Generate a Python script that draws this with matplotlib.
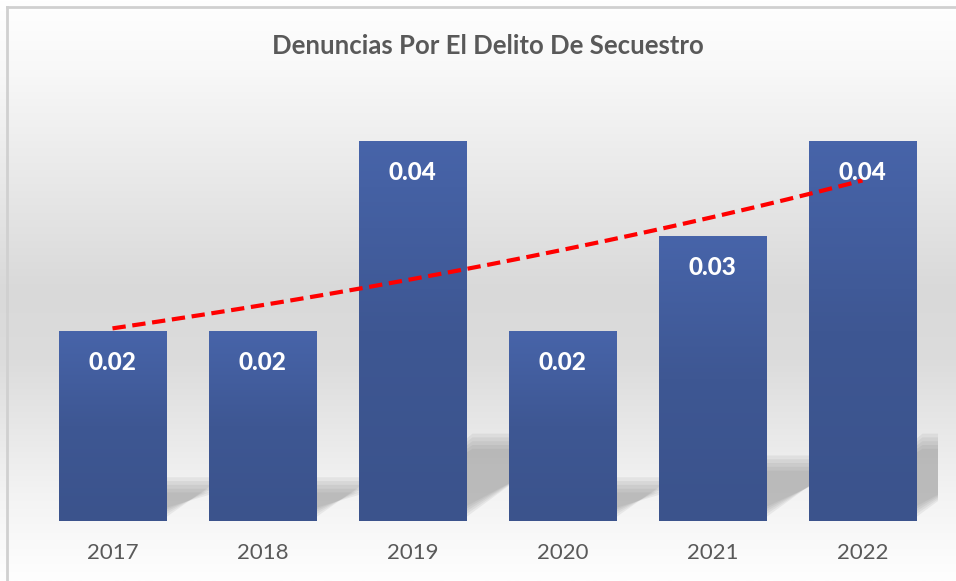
import numpy as np
import matplotlib.pyplot as plt
from matplotlib.patches import Polygon
from matplotlib.colors import LinearSegmentedColormap

years = ["2017", "2018", "2019", "2020", "2021", "2022"]
values = [0.02, 0.02, 0.04, 0.02, 0.03, 0.04]
title = "Denuncias Por El Delito De Secuestro"

plt.rcParams["font.family"] = ["Lato", "DejaVu Sans"]

fig = plt.figure(figsize=(9.56, 5.81), dpi=100)

# background: white -> light gray -> white
bg = fig.add_axes([0, 0, 1, 1], zorder=0)
bg_cmap = LinearSegmentedColormap.from_list(
    "bg", [(0.0, "#ffffff"), (0.12, "#f8f8f8"), (0.5, "#d9d9d9"), (0.62, "#dcdcdc"),
           (0.85, "#f3f3f3"), (1.0, "#fefefe")])
grad = np.linspace(0, 1, 256).reshape(-1, 1)
bg.imshow(grad, aspect="auto", cmap=bg_cmap, extent=(0, 1, 0, 1), origin="upper")
bg.plot([7 / 956, 7 / 956], [0, 1 - 7 / 581], color="#d0d0d0", lw=2)
bg.plot([7 / 956, 1], [1 - 7 / 581, 1 - 7 / 581], color="#d0d0d0", lw=2)
bg.set_xlim(0, 1)
bg.set_ylim(0, 1)
bg.axis("off")

ax = fig.add_axes([37.5 / 956, 1 - 521 / 581, 900 / 956, (521 - 93.5) / 581], zorder=1)
ax.patch.set_alpha(0)
x = np.arange(len(years))
width = 0.715

# soft perspective shadows behind the bars (layered for a blurred edge)
px_per_unit_y = 9500.0
for xi, v in zip(x, values):
    h = 0.23 * v
    shift = 1.3 * h * px_per_unit_y / 150.0
    for k in range(5):
        g = 0.01 * k
        dy = 0.0004 * k
        poly = Polygon([(xi - width / 2 + 0.1, 0.0004 + dy * 0.5), (xi + width / 2 - g, 0.0004 + dy * 0.5),
                        (xi + width / 2 + shift - g, h - dy),
                        (xi - width / 2 + shift, h - dy)],
                       closed=True, facecolor="#7a7a7a", edgecolor="none", alpha=0.11, zorder=1)
        ax.add_patch(poly)

# bars with vertical gradient
bar_cmap = LinearSegmentedColormap.from_list("bar", ["#3b538c", "#3e5793", "#4764a9"])
bars = ax.bar(x, values, width=width, color="none", zorder=2)
for b, v in zip(bars, values):
    bx = b.get_x()
    im = ax.imshow(np.linspace(0, 1, 100).reshape(-1, 1), cmap=bar_cmap, aspect="auto",
                   extent=(bx, bx + b.get_width(), 0, v), origin="lower", zorder=2)
    im.set_clip_path(b)
    ax.text(bx + b.get_width() / 2, v - 0.0033, f"{v:.2f}", ha="center", va="center",
            color="white", fontsize=17.5, fontweight="black", zorder=4)
ax.set_xlim(-0.5, len(years) - 0.5)
ax.set_ylim(0, 0.045)

# exponential trendline
coef = np.polyfit(x, np.log(values), 1)
xt = np.linspace(x[0], x[-1], 200)
ax.plot(xt, np.exp(np.polyval(coef, xt)), color="#ff0000", lw=3, ls=(0, (3.2, 1.6)), zorder=3)

ax.set_xticks(x)
ax.set_xticklabels(years, fontsize=16, color="#595959")
ax.tick_params(axis="x", length=0, pad=16)
ax.set_yticks([])
for s in ax.spines.values():
    s.set_visible(False)

fig.text(0.51, 1 - 46 / 581, title, ha="center", va="center", fontsize=18.5,
         fontweight="bold", color="#595959")

fig.savefig("out.png", dpi=100)
